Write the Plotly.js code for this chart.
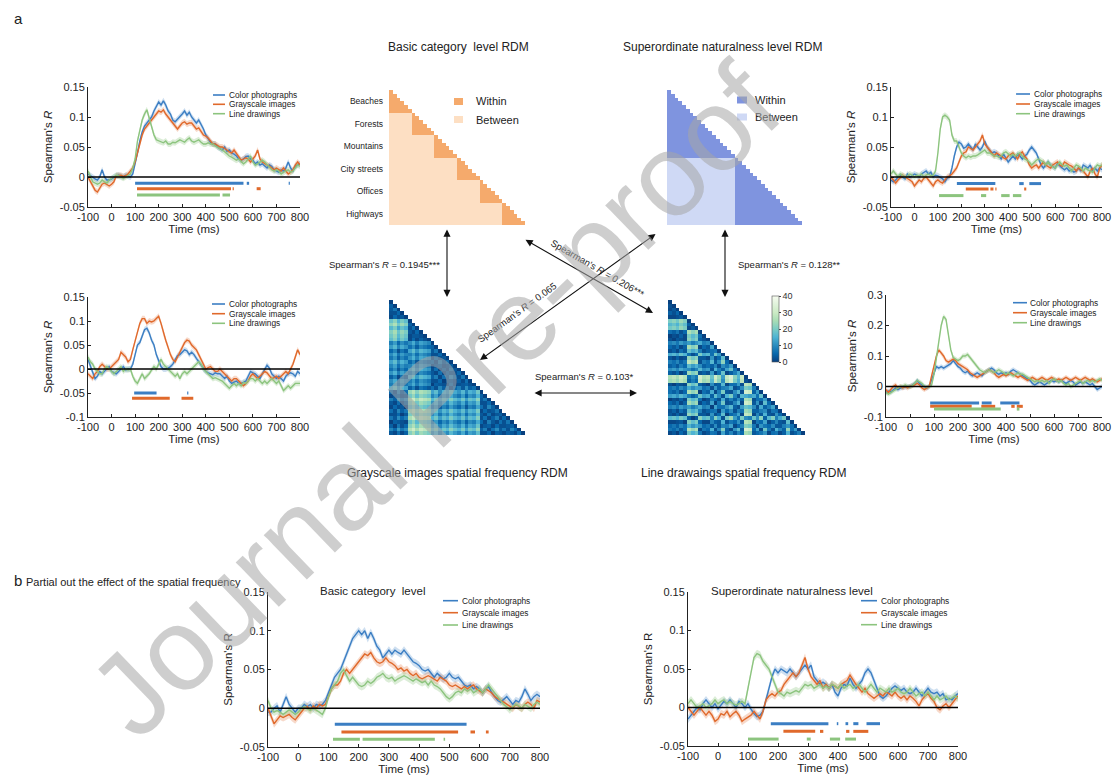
<!DOCTYPE html>
<html><head><meta charset="utf-8">
<script src="https://cdn.plot.ly/plotly-3.0.1.min.js"></script>
<style>html,body{margin:0;padding:0;background:#fff}#chart{width:1114px;height:778px}</style>
</head><body><div id="chart"></div>
<script>
// ---------------- DATA ----------------
const time = [-100,-90,-80,-70,-60,-50,-40,-30,-20,-10,0,10,20,30,40,50,60,70,80,90,100,110,120,130,140,150,160,170,180,190,200,210,220,230,240,250,260,270,280,290,300,310,320,330,340,350,360,370,380,390,400,410,420,430,440,450,460,470,480,490,500,510,520,530,540,550,560,570,580,590,600,610,620,630,640,650,660,670,680,690,700,710,720,730,740,750,760,770,780,790,800];
const seriesNames = ['Color photographs','Grayscale images','Line drawings'];
const xTickVals = [-100,0,100,200,300,400,500,600,700,800];
const xTickText = ['-100','0','100','200','300','400','500','600','700','800'];
const yTickValsA = [-0.05,0,0.05,0.1,0.15];
const yTickTextA = ['-0.05','0','0.05','0.1','0.15'];
const yTickValsB = [-0.1,-0.05,0,0.05,0.1,0.15];
const yTickTextB = ['-0.1','-0.05','0','0.05','0.1','0.15'];
const yTickValsC = [-0.1,0,0.1,0.2,0.3];
const yTickTextC = ['-0.1','0','0.1','0.2','0.3'];

// Panel 1: basic category (top-left)
const p1Color = [0.005,0.002,0.0,-0.003,-0.005,0.0,0.012,0.0,-0.005,-0.005,
-0.003,0.0,0.002,0.003,0.002,0.0,0.003,0.002,0.0,0.005,
0.02,0.04,0.06,0.075,0.085,0.09,0.095,0.1,0.11,0.118,
0.125,0.12,0.127,0.12,0.11,0.105,0.095,0.092,0.097,0.1,
0.105,0.11,0.103,0.108,0.1,0.095,0.09,0.095,0.088,0.08,
0.07,0.063,0.058,0.055,0.055,0.05,0.048,0.045,0.05,0.043,
0.045,0.04,0.038,0.035,0.03,0.028,0.03,0.034,0.035,0.03,
0.028,0.022,0.025,0.02,0.022,0.018,0.015,0.02,0.018,0.012,
0.01,0.008,0.012,0.01,0.015,0.025,0.015,0.01,0.018,0.02,
0.022];
const p1Gray = [0.0,-0.008,-0.015,-0.022,-0.025,-0.018,-0.012,-0.01,-0.012,-0.015,
-0.012,-0.008,0.002,0.002,0.003,0.001,0.002,0.005,0.01,0.015,
0.025,0.04,0.055,0.07,0.08,0.085,0.09,0.095,0.1,0.105,
0.11,0.108,0.112,0.105,0.1,0.095,0.09,0.085,0.08,0.085,
0.09,0.092,0.088,0.09,0.09,0.085,0.08,0.082,0.075,0.07,
0.068,0.065,0.06,0.055,0.055,0.052,0.05,0.05,0.048,0.045,
0.042,0.04,0.045,0.04,0.035,0.028,0.03,0.032,0.03,0.025,
0.03,0.035,0.045,0.03,0.025,0.022,0.02,0.018,0.015,0.012,
0.015,0.012,0.01,0.015,0.01,0.005,0.008,0.012,0.02,0.025,
0.02];
const p1Line = [0.01,0.0,-0.008,-0.01,-0.012,-0.01,-0.005,-0.008,-0.01,-0.005,
-0.002,0.0,0.003,0.002,0.0,-0.002,0.0,0.003,0.005,0.015,
0.03,0.06,0.08,0.095,0.105,0.112,0.098,0.085,0.07,0.062,
0.06,0.058,0.057,0.06,0.055,0.055,0.058,0.057,0.06,0.062,
0.06,0.058,0.062,0.065,0.06,0.058,0.06,0.062,0.058,0.055,
0.055,0.057,0.055,0.055,0.052,0.05,0.048,0.045,0.042,0.038,
0.035,0.033,0.03,0.028,0.03,0.025,0.022,0.025,0.03,0.035,
0.025,0.02,0.022,0.025,0.028,0.025,0.02,0.015,0.012,0.01,
0.012,0.01,0.005,0.008,0.01,0.012,0.008,0.01,0.015,0.02,
0.018];
const p1SigColor = [[100,560],[574,584],[752,757]];
const p1SigGray = [[108,507],[514,519],[616,633]];
const p1SigLine = [[108,460],[471,503]];
const p1SigY = [-0.0105,-0.0195,-0.03];

// Panel 2: (middle-left)
const p2Color = [0.02,0.005,-0.01,-0.02,-0.015,-0.005,-0.01,-0.005,0.0,0.005,
-0.005,-0.008,-0.01,-0.005,0.0,0.005,-0.002,0.0,0.0,0.01,
0.03,0.05,0.055,0.07,0.082,0.085,0.075,0.06,0.05,0.03,
0.015,0.005,0.0,0.0,0.002,0.005,0.01,0.02,0.028,0.03,
0.035,0.04,0.038,0.03,0.035,0.03,0.022,0.015,0.008,0.0,
-0.005,-0.008,-0.01,-0.012,-0.008,-0.01,-0.01,-0.015,-0.02,-0.015,
-0.025,-0.03,-0.028,-0.025,-0.03,-0.03,-0.028,-0.025,-0.015,-0.005,
-0.008,-0.01,-0.015,-0.02,-0.01,0.0,0.008,0.002,-0.01,-0.015,
-0.02,-0.015,-0.02,-0.025,-0.015,-0.01,-0.008,-0.01,-0.015,-0.005,
-0.01];
const p2Gray = [-0.01,-0.015,-0.02,-0.01,-0.005,0.005,0.01,0.005,0.0,0.0,
0.005,0.01,0.015,0.02,0.035,0.03,0.025,0.015,0.02,0.04,
0.06,0.08,0.095,0.105,0.105,0.095,0.1,0.098,0.1,0.105,
0.11,0.095,0.075,0.06,0.045,0.03,0.02,0.015,0.025,0.035,
0.045,0.055,0.06,0.058,0.05,0.045,0.04,0.03,0.02,0.01,
0.0,0.003,0.005,0.0,-0.005,-0.005,0.0,-0.005,-0.01,-0.015,
-0.02,-0.025,-0.02,-0.02,-0.025,-0.03,-0.035,-0.03,-0.025,-0.015,
-0.01,-0.015,-0.02,-0.015,-0.01,-0.005,-0.008,-0.015,-0.02,-0.018,
-0.015,-0.02,-0.015,-0.01,-0.005,-0.01,0.0,0.01,0.025,0.04,
0.03];
const p2Line = [0.025,0.015,0.01,0.0,-0.005,-0.01,-0.01,0.0,0.005,0.0,
-0.005,-0.01,-0.005,0.0,0.005,-0.005,0.0,-0.002,0.0,-0.015,
-0.025,-0.03,-0.02,-0.01,-0.02,-0.015,-0.01,-0.002,0.005,0.0,
0.01,0.02,0.01,0.005,0.0,-0.005,-0.01,-0.015,-0.01,-0.02,
-0.01,-0.005,-0.01,-0.005,0.0,0.005,0.01,0.015,0.01,0.0,
-0.005,-0.01,-0.015,-0.02,-0.018,-0.02,-0.022,-0.025,-0.03,-0.035,
-0.04,-0.035,-0.03,-0.035,-0.03,-0.035,-0.028,-0.03,-0.025,-0.02,
-0.02,-0.025,-0.02,-0.025,-0.03,-0.025,-0.03,-0.025,-0.02,-0.025,
-0.03,-0.025,-0.035,-0.045,-0.04,-0.035,-0.04,-0.035,-0.03,-0.03,
-0.03];
const p2SigColor = [[96,191],[321,326]];
const p2SigGray = [[87,247],[297,347]];
const p2SigLine = [];
const p2SigY = [-0.05,-0.061,-0.072];

// Panel 3: superordinate (top-right)
const p3Color = [-0.005,-0.008,-0.005,0.0,0.002,0.0,-0.003,0.005,0.0,0.002,
0.005,0.003,0.0,0.005,0.008,0.01,0.005,0.008,0.0,0.003,
0.002,0.0,-0.003,-0.008,-0.002,0.0,0.015,0.035,0.05,0.058,
0.055,0.048,0.05,0.055,0.05,0.045,0.055,0.05,0.045,0.05,
0.06,0.05,0.045,0.04,0.042,0.04,0.035,0.03,0.038,0.032,
0.025,0.03,0.035,0.03,0.038,0.035,0.03,0.035,0.038,0.045,
0.05,0.045,0.04,0.03,0.02,0.015,0.02,0.025,0.02,0.018,
0.015,0.022,0.018,0.015,0.012,0.015,0.01,0.012,0.008,0.01,
0.015,0.01,0.02,0.018,0.015,0.02,0.01,0.015,0.01,0.015,
0.012];
const p3Gray = [0.0,-0.005,-0.01,-0.005,0.0,0.003,0.0,-0.002,-0.005,-0.008,
-0.015,-0.01,-0.005,-0.008,-0.002,0.0,-0.005,-0.01,-0.015,-0.008,
-0.005,-0.008,-0.01,-0.005,0.0,0.002,0.005,0.01,0.015,0.025,
0.035,0.04,0.042,0.05,0.048,0.045,0.05,0.055,0.06,0.07,
0.055,0.05,0.045,0.04,0.035,0.04,0.038,0.035,0.032,0.03,
0.035,0.038,0.04,0.035,0.03,0.038,0.042,0.035,0.03,0.02,
0.015,0.018,0.02,0.015,0.02,0.025,0.02,0.018,0.015,0.02,
0.022,0.025,0.02,0.018,0.025,0.022,0.02,0.018,0.015,0.01,
0.015,0.012,0.01,0.005,0.0,0.01,0.015,0.005,0.0,0.015,
0.02];
const p3Line = [0.005,0.01,0.005,0.0,0.005,0.003,0.0,0.002,0.005,0.003,
0.0,0.003,0.002,0.005,0.0,0.003,0.005,0.002,0.003,0.01,
0.04,0.08,0.1,0.103,0.1,0.095,0.07,0.06,0.06,0.05,
0.04,0.035,0.032,0.035,0.033,0.035,0.035,0.037,0.04,0.042,
0.045,0.04,0.04,0.038,0.035,0.035,0.033,0.035,0.04,0.042,
0.038,0.035,0.038,0.035,0.038,0.04,0.035,0.03,0.028,0.025,
0.02,0.025,0.028,0.03,0.028,0.025,0.02,0.025,0.02,0.018,
0.015,0.02,0.025,0.02,0.018,0.02,0.015,0.01,0.015,0.02,
0.018,0.015,0.01,0.015,0.012,0.01,0.008,0.015,0.02,0.018,
0.02];
const p3SigColor = [[181,345],[447,466],[490,540]];
const p3SigGray = [[219,316],[324,337],[345,350],[468,477]];
const p3SigLine = [[105,209],[284,306],[370,406],[420,456]];
const p3SigY = [-0.011,-0.02,-0.031];

// Panel 4: (middle-right)
const p4Color = [-0.02,-0.015,-0.018,-0.01,-0.005,-0.01,-0.005,-0.003,-0.002,0.0,
0.0,0.005,0.01,0.02,0.01,0.005,0.0,-0.005,0.0,0.02,
0.045,0.065,0.06,0.065,0.06,0.065,0.07,0.075,0.085,0.075,
0.065,0.06,0.05,0.045,0.05,0.04,0.035,0.04,0.045,0.04,
0.035,0.045,0.05,0.055,0.06,0.055,0.045,0.04,0.045,0.04,
0.045,0.04,0.05,0.055,0.05,0.045,0.04,0.035,0.03,0.025,
0.02,0.01,0.005,0.01,0.015,0.01,0.005,0.01,0.015,0.02,
0.015,0.02,0.015,0.02,0.015,0.01,0.015,0.02,0.015,0.005,
0.01,0.015,0.01,0.015,0.01,0.005,0.01,0.0,-0.01,-0.005,
0.0];
const p4Gray = [-0.01,-0.02,-0.01,0.0,0.005,-0.005,0.0,-0.005,0.0,-0.005,
0.0,0.002,0.005,0.01,0.005,-0.005,-0.01,-0.005,0.0,0.035,
0.07,0.1,0.12,0.11,0.1,0.085,0.08,0.085,0.09,0.085,
0.075,0.07,0.065,0.06,0.055,0.045,0.04,0.035,0.03,0.035,
0.04,0.045,0.05,0.055,0.05,0.045,0.035,0.03,0.035,0.04,
0.035,0.04,0.045,0.04,0.035,0.03,0.035,0.03,0.025,0.02,
0.025,0.03,0.025,0.02,0.025,0.03,0.025,0.02,0.025,0.03,
0.025,0.02,0.025,0.02,0.025,0.03,0.025,0.02,0.025,0.03,
0.025,0.02,0.025,0.03,0.025,0.02,0.025,0.02,0.015,0.02,
0.025];
const p4Line = [-0.02,-0.025,-0.02,-0.015,-0.01,-0.005,0.0,0.0,0.005,0.0,
0.0,0.003,0.01,0.02,0.015,0.01,0.0,-0.002,0.0,0.005,
0.04,0.09,0.15,0.2,0.23,0.22,0.17,0.12,0.095,0.09,
0.085,0.09,0.1,0.1,0.105,0.095,0.085,0.075,0.065,0.055,
0.05,0.045,0.05,0.055,0.05,0.045,0.05,0.055,0.05,0.045,
0.04,0.045,0.04,0.035,0.04,0.045,0.04,0.04,0.035,0.03,
0.025,0.02,0.015,0.02,0.015,0.02,0.015,0.02,0.01,0.02,
0.025,0.02,0.015,0.02,0.01,0.005,0.01,0.0,0.005,0.01,
0.015,0.02,0.01,0.015,0.02,0.015,0.02,0.015,0.02,0.025,
0.02];
const p4SigColor = [[84,288],[299,340],[376,456]];
const p4SigGray = [[84,257],[297,355],[422,436],[445,470]];
const p4SigLine = [[100,378],[445,456]];
const p4SigY = [-0.054,-0.065,-0.074];

// Panel 5: b, basic category level
const p5Color = [-0.005,-0.005,0.0,0.003,-0.005,0.005,0.015,0.005,0.0,-0.005,
0.0,0.0,0.005,0.002,0.005,0.0,0.005,0.003,0.005,0.01,
0.02,0.03,0.04,0.045,0.05,0.06,0.07,0.08,0.09,0.095,
0.1,0.095,0.1,0.09,0.098,0.09,0.08,0.075,0.065,0.07,
0.075,0.07,0.075,0.072,0.07,0.075,0.07,0.065,0.06,0.058,
0.055,0.05,0.048,0.05,0.045,0.04,0.045,0.042,0.038,0.04,
0.045,0.04,0.038,0.04,0.035,0.03,0.028,0.03,0.025,0.028,
0.025,0.02,0.025,0.028,0.02,0.015,0.01,0.008,0.012,0.015,
0.01,0.005,0.01,0.008,0.015,0.025,0.018,0.01,0.015,0.018,
0.015];
const p5Gray = [0.0,-0.01,-0.02,-0.015,-0.01,-0.012,-0.01,-0.008,-0.012,-0.015,
-0.01,-0.005,0.0,0.002,-0.002,0.003,0.0,0.005,0.003,0.005,
0.015,0.025,0.03,0.03,0.035,0.045,0.05,0.045,0.05,0.055,
0.06,0.065,0.07,0.068,0.072,0.065,0.06,0.058,0.06,0.065,
0.06,0.058,0.055,0.05,0.052,0.048,0.05,0.045,0.042,0.045,
0.04,0.038,0.04,0.042,0.04,0.038,0.035,0.04,0.038,0.035,
0.03,0.028,0.03,0.028,0.025,0.028,0.025,0.028,0.03,0.025,
0.022,0.02,0.025,0.022,0.02,0.015,0.012,0.01,0.008,0.005,
0.002,0.0,0.005,0.002,0.0,0.005,0.008,0.005,0.0,0.01,
0.008];
const p5Line = [0.01,0.0,-0.005,-0.003,-0.005,-0.008,-0.005,-0.002,-0.005,-0.008,
-0.005,0.0,0.002,0.0,-0.003,0.0,-0.002,-0.005,-0.008,0.0,
0.015,0.025,0.03,0.035,0.045,0.05,0.042,0.035,0.04,0.035,
0.03,0.028,0.03,0.035,0.032,0.035,0.04,0.042,0.045,0.04,
0.038,0.04,0.035,0.038,0.04,0.042,0.04,0.038,0.035,0.038,
0.035,0.033,0.035,0.03,0.035,0.03,0.028,0.025,0.02,0.015,
0.012,0.015,0.02,0.022,0.02,0.025,0.022,0.025,0.02,0.022,
0.025,0.02,0.025,0.03,0.025,0.02,0.015,0.01,0.005,0.002,
-0.002,0.002,0.005,0.003,0.0,0.005,0.003,0.0,0.005,0.008,
0.005];
const p5SigColor = [[121,557]];
const p5SigGray = [[143,529],[570,585],[621,630]];
const p5SigLine = [[115,204],[213,452],[481,486]];
const p5SigY = [-0.0207,-0.0306,-0.040];

// Panel 6: b, superordinate naturalness level
const p6Color = [-0.015,-0.01,-0.005,0.0,-0.003,0.005,0.01,0.005,0.0,0.005,
-0.002,0.003,0.008,0.005,0.01,0.005,0.0,0.008,0.005,0.0,
0.005,-0.002,-0.008,-0.012,-0.01,-0.005,0.01,0.025,0.04,0.05,
0.045,0.05,0.048,0.045,0.05,0.045,0.04,0.045,0.05,0.055,
0.05,0.055,0.04,0.035,0.03,0.033,0.03,0.025,0.03,0.02,
0.015,0.025,0.03,0.028,0.038,0.03,0.025,0.03,0.035,0.045,
0.05,0.045,0.035,0.025,0.015,0.012,0.015,0.02,0.025,0.028,
0.025,0.022,0.025,0.02,0.018,0.02,0.025,0.02,0.015,0.02,
0.025,0.02,0.018,0.02,0.015,0.018,0.01,0.012,0.01,0.015,
0.018];
const p6Gray = [0.0,-0.005,-0.01,-0.005,0.0,-0.005,-0.01,-0.005,-0.01,-0.018,
-0.015,-0.008,-0.01,-0.005,-0.012,-0.008,-0.005,-0.01,-0.018,-0.015,
-0.012,-0.01,-0.005,-0.01,-0.015,-0.005,0.01,0.015,0.018,0.015,
0.02,0.022,0.03,0.035,0.04,0.045,0.04,0.045,0.055,0.065,
0.05,0.04,0.035,0.03,0.035,0.025,0.03,0.025,0.03,0.028,
0.025,0.03,0.032,0.035,0.042,0.035,0.03,0.025,0.02,0.025,
0.018,0.015,0.012,0.015,0.018,0.015,0.02,0.018,0.015,0.02,
0.015,0.012,0.015,0.01,0.015,0.012,0.008,0.002,0.01,0.015,
0.018,0.012,0.008,0.0,-0.003,0.002,0.005,0.0,0.005,0.01,
0.015];
const p6Line = [0.005,0.01,0.005,0.0,0.002,0.005,0.0,0.003,0.005,0.01,
0.005,0.008,0.01,0.005,0.008,0.005,0.003,0.005,0.008,0.005,
0.025,0.05,0.065,0.07,0.068,0.06,0.055,0.05,0.04,0.03,
0.02,0.018,0.015,0.02,0.018,0.02,0.022,0.02,0.025,0.03,
0.028,0.03,0.025,0.028,0.03,0.025,0.028,0.025,0.03,0.028,
0.025,0.03,0.025,0.028,0.03,0.025,0.028,0.03,0.025,0.02,
0.025,0.03,0.025,0.02,0.025,0.022,0.02,0.025,0.02,0.022,
0.025,0.02,0.018,0.02,0.025,0.02,0.015,0.018,0.02,0.015,
0.02,0.015,0.01,0.015,0.01,0.012,0.015,0.01,0.012,0.015,
0.012];
const p6SigColor = [[176,368],[396,401],[425,434],[451,468],[495,540]];
const p6SigGray = [[218,324],[340,351],[427,438],[451,501]];
const p6SigLine = [[100,202],[296,309],[373,407],[424,460]];
const p6SigY = [-0.021,-0.031,-0.041];

const panelSem = [0.005,0.006,0.005,0.008,0.005,0.005];

// RDM data
const categories = ['Beaches','Forests','Mountains','City streets','Offices','Highways'];
const imagesPerCategory = 6;
const naturalness = ['natural','natural','natural','man-made','man-made','man-made'];
const graySF = [12,8,15,10,13,30,34,28,33,31,29,20,24,17,22,19,25,21,18,23,16,22,20,26,7,11,4,9,13,6,10,5,12,8,3,9];
const lineSF = [14,12,15,10,13,34,30,33,8,14,12,22,9,16,28,11,6,18,24,10,40,38,12,20,8,26,14,9,22,16,11,30,13,19,7,15];
const sfTicks = [0,10,20,30,40];
const rdmLegend = ['Within','Between'];

// ---------------- LAYOUT HELPERS ----------------
const W = 1114, H = 778;
const FONT = 'Arial, "Liberation Sans", sans-serif';
const fx = v => v / W;
const fy = v => 1 - v / H;
const dx = (a, b) => [a / W, b / W];
const dy = (t, b) => [1 - b / H, 1 - t / H];
const colors = ['#3b7ec3', '#e0692b', '#8cc47e'];
const bandColors = ['rgba(59,126,195,0.25)', 'rgba(224,105,43,0.25)', 'rgba(140,196,126,0.3)'];

const panels = [
  {data:[p1Color,p1Gray,p1Line], sig:[p1SigColor,p1SigGray,p1SigLine], sigY:p1SigY, yr:[-0.05,0.15], tv:yTickValsA, tt:yTickTextA, x:[88,300], y:[87,207], yt:"Spearman's <i>R</i>", lg:{lx:213,len:12,tx:227,rows:[95,104.3,113.7]}},
  {data:[p2Color,p2Gray,p2Line], sig:[p2SigColor,p2SigGray,p2SigLine], sigY:p2SigY, yr:[-0.1,0.15], tv:yTickValsB, tt:yTickTextB, x:[88,300], y:[297,417], yt:"Spearman's <i>R</i>", lg:{lx:212,len:13,tx:227,rows:[304,313.7,323.3]}},
  {data:[p3Color,p3Gray,p3Line], sig:[p3SigColor,p3SigGray,p3SigLine], sigY:p3SigY, yr:[-0.05,0.15], tv:yTickValsA, tt:yTickTextA, x:[891,1102], y:[87,207], yt:"Spearman's <i>R</i>", lg:{lx:1016,len:14,tx:1032,rows:[94,104,113.7]}},
  {data:[p4Color,p4Gray,p4Line], sig:[p4SigColor,p4SigGray,p4SigLine], sigY:p4SigY, yr:[-0.1,0.3], tv:yTickValsC, tt:yTickTextC, x:[886,1102], y:[295,417], yt:"Spearman's <i>R</i>", lg:{lx:1013,len:14,tx:1028,rows:[302.7,312.7,322.7]}},
  {data:[p5Color,p5Gray,p5Line], sig:[p5SigColor,p5SigGray,p5SigLine], sigY:p5SigY, yr:[-0.05,0.15], tv:yTickValsA, tt:yTickTextA, x:[268,540], y:[592,747], yt:"Spearman's R", lg:{lx:443,len:15,tx:460,rows:[600.7,612.7,625]}},
  {data:[p6Color,p6Gray,p6Line], sig:[p6SigColor,p6SigGray,p6SigLine], sigY:p6SigY, yr:[-0.05,0.15], tv:yTickValsA, tt:yTickTextA, x:[688,958], y:[592,746], yt:"Spearman's R", lg:{lx:861,len:16,tx:879,rows:[600.7,612.7,624.7]}}
];

const traces = [];
const layout = {
  width: W, height: H, margin: {l:0,r:0,t:0,b:0},
  paper_bgcolor: '#fff', plot_bgcolor: 'rgba(0,0,0,0)',
  showlegend: false, font: {family: FONT, color: '#222'},
  shapes: [], annotations: []
};
let lenErr = false;

panels.forEach((p, k) => {
  const n = k + 1;
  const xa = n === 1 ? 'x' : 'x' + n;
  const ya = n === 1 ? 'y' : 'y' + n;
  const sem = panelSem[k];
  p.data.forEach((vals, s) => {
    if (vals.length !== time.length) lenErr = true;
    const up = vals.map(v => v + sem), lo = vals.map(v => v - sem);
    traces.push({type:'scatter', mode:'lines', x: time.concat(time.slice().reverse()), y: up.concat(lo.slice().reverse()),
      fill:'toself', fillcolor: bandColors[s], line:{width:0}, xaxis: xa, yaxis: ya, hoverinfo:'skip'});
  });
  p.data.forEach((vals, s) => {
    traces.push({type:'scatter', mode:'lines', x: time, y: vals, name: seriesNames[s],
      line:{color: colors[s], width: 1.4}, xaxis: xa, yaxis: ya});
  });
  p.sig.forEach((segs, s) => {
    const sx = [], sy = [];
    segs.forEach(g => { sx.push(g[0], g[1], null); sy.push(p.sigY[s], p.sigY[s], null); });
    traces.push({type:'scatter', mode:'lines', x: sx, y: sy, line:{color: colors[s], width: 3}, xaxis: xa, yaxis: ya, hoverinfo:'skip'});
  });
  layout['xaxis' + (n === 1 ? '' : n)] = {
    domain: dx(p.x[0], p.x[1]), range: [-100, 800], anchor: ya,
    tickvals: xTickVals, ticktext: xTickText, ticks: 'inside', ticklen: 3, tickcolor: '#222',
    showline: true, linecolor: '#222', linewidth: 1, showgrid: false, zeroline: false,
    tickfont: {size: 11, color: '#222', family: FONT},
    title: {text: 'Time (ms)', font: {size: 11.5, color: '#222', family: FONT}, standoff: 1},
    fixedrange: true
  };
  layout['yaxis' + (n === 1 ? '' : n)] = {
    domain: dy(p.y[0], p.y[1]), range: p.yr, anchor: xa,
    tickvals: p.tv, ticktext: p.tt, ticks: 'inside', ticklen: 3, tickcolor: '#222',
    showline: true, linecolor: '#222', linewidth: 1, showgrid: false, zeroline: false,
    tickfont: {size: 11, color: '#222', family: FONT},
    title: {text: p.yt, font: {size: 11.5, color: '#222', family: FONT}, standoff: 4},
    fixedrange: true
  };
  layout.shapes.push({type:'line', xref: xa, yref: ya, x0: -100, x1: 800, y0: 0, y1: 0, line:{color:'#000', width:1.6}, layer:'above'});
  seriesNames.forEach((nm, s) => {
    layout.shapes.push({type:'line', xref:'paper', yref:'paper', x0: fx(p.lg.lx), x1: fx(p.lg.lx + p.lg.len), y0: fy(p.lg.rows[s]), y1: fy(p.lg.rows[s]), line:{color: colors[s], width: 1.6}});
    layout.annotations.push({xref:'paper', yref:'paper', x: fx(p.lg.tx), y: fy(p.lg.rows[s]), xanchor:'left', yanchor:'middle', text: nm, showarrow:false, font:{size: 8.3, color:'#222', family: FONT}});
  });
});

// ---------------- RDMs ----------------
const imgCat = [];
categories.forEach((c, ci) => { for (let k = 0; k < imagesPerCategory; k++) imgCat.push(ci); });
const N = imgCat.length;
function tri(f) {
  const z = [];
  for (let i = 0; i < N; i++) { const row = []; for (let j = 0; j < N; j++) row.push(j <= i ? f(i, j) : null); z.push(row); }
  return z;
}
const basicZ = tri((i, j) => imgCat[i] === imgCat[j] ? 1 : 0);
const superZ = tri((i, j) => naturalness[imgCat[i]] === naturalness[imgCat[j]] ? 1 : 0);
const grayZ = tri((i, j) => Math.abs(graySF[i] - graySF[j]));
const lineZ = tri((i, j) => Math.abs(lineSF[i] - lineSF[j]));

const rdms = [
  {z: basicZ, cs: [[0,'#fddfc3'],[1,'#f5aa6c']], x:[389,525], y:[90,225], labels:true},
  {z: superZ, cs: [[0,'#cfd9f5'],[1,'#7f94df']], x:[667,802], y:[90,225]},
  {z: grayZ, ca: true, x:[389,525], y:[300,435]},
  {z: lineZ, ca: true, x:[668,805], y:[300,435]}
];
rdms.forEach((r, k) => {
  const n = 7 + k;
  const t = {type:'heatmap', z: r.z, xaxis:'x' + n, yaxis:'y' + n, hoverinfo:'skip'};
  if (r.ca) { t.coloraxis = 'coloraxis'; } else { t.colorscale = r.cs; t.zmin = 0; t.zmax = 1; t.showscale = false; }
  traces.push(t);
  layout['xaxis' + n] = {domain: dx(r.x[0], r.x[1]), range:[-0.5, N - 0.5], visible:false, anchor:'y' + n, fixedrange:true};
  const yax = {domain: dy(r.y[0], r.y[1]), range:[N - 0.5, -0.5], anchor:'x' + n, fixedrange:true, showgrid:false, zeroline:false, showline:false};
  if (r.labels) {
    yax.tickvals = categories.map((c, ci) => ci * imagesPerCategory + (imagesPerCategory - 1) / 2);
    yax.ticktext = categories; yax.ticks = ''; yax.ticklabelstandoff = 5;
    yax.tickfont = {size: 8.5, color:'#222', family: FONT};
  } else { yax.visible = false; }
  layout['yaxis' + n] = yax;
});
layout.coloraxis = {
  cmin: 0, cmax: 40,
  colorscale: [[0,'#08407f'],[0.125,'#0868ac'],[0.25,'#2b8cbe'],[0.375,'#4eb3d3'],[0.5,'#7bccc4'],[0.625,'#a8ddb5'],[0.75,'#ccebc5'],[0.875,'#e0f3db'],[1,'#f7fcf0']],
  colorbar: {x: fx(772), xanchor:'left', y: fy(329), yanchor:'middle', len: 66, lenmode:'pixels', thickness: 7, thicknessmode:'pixels',
    outlinewidth: 0.6, outlinecolor:'#555', tickvals: sfTicks, ticks:'outside', ticklen: 2, tickcolor:'#444',
    tickfont:{size: 9, color:'#333', family: FONT}, xpad: 0, ypad: 0}
};

const rdmLegendColors = [['#f5aa6c','#fddfc3'], ['#7f94df','#cfd9f5']];
const rdmLegendPos = [{sx:454, sw:9, tx:474, rows:[101.5,119.5]}, {sx:737, sw:10, tx:753, rows:[100,117]}];
rdmLegendPos.forEach((L, k) => {
  rdmLegend.forEach((lbl, s) => {
    layout.shapes.push({type:'rect', xref:'paper', yref:'paper', x0: fx(L.sx), x1: fx(L.sx + L.sw), y0: fy(L.rows[s] + 3.5), y1: fy(L.rows[s] - 3.5), fillcolor: rdmLegendColors[k][s], line:{width:0}});
    layout.annotations.push({xref:'paper', yref:'paper', x: fx(L.tx), y: fy(L.rows[s]), xanchor:'left', yanchor:'middle', text: lbl, showarrow:false, font:{size: 11, color:'#222', family: FONT}});
  });
});

// ---------------- TEXT & ARROWS ----------------
function txt(t, x, y, size, opts) {
  layout.annotations.push(Object.assign({xref:'paper', yref:'paper', x: fx(x), y: fy(y), text: t, showarrow:false, xanchor:'center', yanchor:'middle', font:{size: size, color:'#222', family: FONT}}, opts || {}));
}
txt('a', 12, 18, 15, {xanchor:'left'});
txt('b', 12, 580, 15, {xanchor:'left'});
txt('Partial out the effect of the spatial frequency', 24, 582, 11, {xanchor:'left'});
txt('Basic category  level RDM', 458, 47, 12);
txt('Superordinate naturalness level RDM', 722, 47, 12);
txt('Grayscale images spatial frequency RDM', 457, 473, 12);
txt('Line drawaings spatial frequency RDM', 743, 473, 12);
txt('Basic category  level', 372, 591, 11.5);
txt('Superordinate naturalness level', 792, 591, 11.5);
txt("Spearman's <i>R</i> = 0.1945***", 384, 264, 9.5);
txt("Spearman's <i>R</i> = 0.128**", 736, 264, 9.5, {xanchor:'left'});
txt("Spearman's <i>R</i> = 0.206***", 598, 268, 9.5, {textangle: 30});
txt("Spearman's <i>R</i> = 0.065", 517, 313, 9.5, {textangle: -36});
txt("Spearman's <i>R</i> = 0.103*", 584, 376, 9.5);

function arrow(x0, y0, x1, y1) {
  layout.annotations.push({xref:'paper', yref:'paper', x: fx(x1), y: fy(y1), ax: x0 - x1, ay: y0 - y1, axref:'pixel', ayref:'pixel',
    text:'', showarrow:true, arrowhead:2, startarrowhead:2, arrowside:'end+start', arrowsize:1.3, startarrowsize:1.3, arrowwidth:1.1, arrowcolor:'#111', standoff:0, startstandoff:0});
}
arrow(447, 228, 447, 297);
arrow(725, 228, 725, 297);
arrow(524, 239, 653, 313);
arrow(657, 233, 480, 360);
arrow(533, 393, 637, 393);

// watermark
txt('Journal Pre-proof', 434, 400, 117, {textangle: -44, font:{size:117, color:'rgba(165,165,165,0.55)', family: FONT}});

if (lenErr) txt('LENGTH ERROR', 560, 20, 20, {font:{size:20,color:'red'}});

Plotly.newPlot('chart', traces, layout, {staticPlot: true, displayModeBar: false});
</script></body></html>
